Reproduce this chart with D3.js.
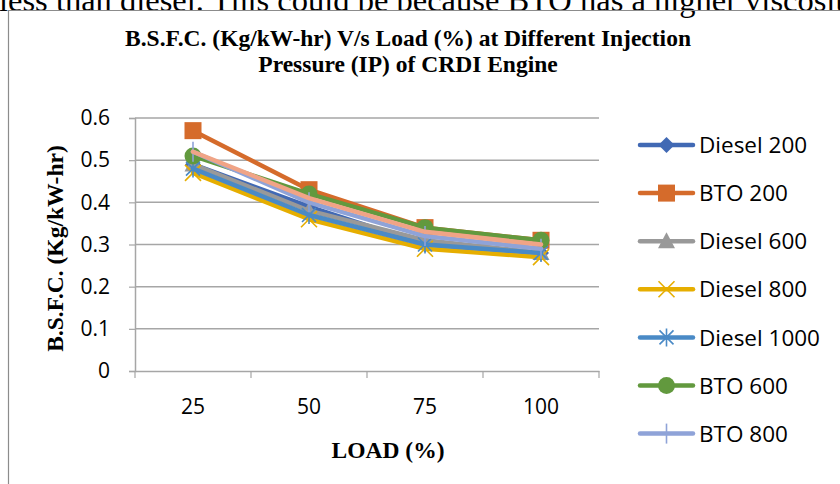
<!DOCTYPE html>
<html>
<head>
<meta charset="utf-8">
<script src="https://cdn.jsdelivr.net/npm/d3@7"></script>
<style>
  html, body { margin: 0; padding: 0; background: #fff; }
  svg { display: block; }
</style>
</head>
<body>
<svg id="chart" width="840" height="484"></svg>
<script>
// Load levels on the category axis
const loads = ["25", "50", "75", "100"];

// Brake specific fuel consumption (Kg/kW-hr) for each fuel / injection pressure
const diesel200  = [0.49, 0.39, 0.30, 0.28];
const bto200     = [0.57, 0.43, 0.34, 0.31];
const diesel600  = [0.49, 0.38, 0.31, 0.28];
const diesel800  = [0.47, 0.36, 0.29, 0.27];
const diesel1000 = [0.48, 0.37, 0.30, 0.28];
const bto600     = [0.51, 0.42, 0.34, 0.31];
const bto800     = [0.52, 0.40, 0.32, 0.29];
const bto1000    = [0.52, 0.41, 0.33, 0.30];

const yTicks = [0, 0.1, 0.2, 0.3, 0.4, 0.5, 0.6];

const series = [
  { name: "Diesel 200",  values: diesel200,  color: "#4169b4", marker: "diamond" },
  { name: "BTO 200",     values: bto200,     color: "#d56b2b", marker: "square" },
  { name: "Diesel 600",  values: diesel600,  color: "#999999", marker: "triangle" },
  { name: "Diesel 800",  values: diesel800,  color: "#e6ae00", marker: "x" },
  { name: "Diesel 1000", values: diesel1000, color: "#4a8ac6", marker: "star" },
  { name: "BTO 600",     values: bto600,     color: "#62993e", marker: "circle" },
  { name: "BTO 800",     values: bto800,     color: "#8fa3d8", marker: "plus" },
  { name: "BTO 1000",    values: bto1000,    color: "#f0a486", marker: "none", legend: false }
];

const serif = "Liberation Serif, Times New Roman, serif";
const sans = "Open Sans, Liberation Sans, sans-serif";

const svg = d3.select("#chart");

// Running text of the page above the chart
svg.append("text")
  .attr("x", -1).attr("y", 11)
  .attr("font-family", serif)
  .attr("font-size", 32.5)
  .attr("fill", "#000")
  .text("less than diesel. This could be because BTO has a higher viscosit");

// Chart frame
svg.append("path")
  .attr("d", "M8.5,484 V10.5 H840")
  .attr("fill", "none").attr("stroke", "#8c8c8c").attr("stroke-width", 1.2);

// Title
const title = svg.append("text")
  .attr("text-anchor", "middle")
  .attr("font-family", serif)
  .attr("font-weight", "bold").attr("font-size", 23.5).attr("fill", "#000");
title.append("tspan").attr("x", 408).attr("y", 46).text("B.S.F.C. (Kg/kW-hr) V/s Load (%) at Different Injection");
title.append("tspan").attr("x", 408).attr("y", 72).text("Pressure (IP) of CRDI Engine");

const plot = { left: 135, right: 599, top: 118, bottom: 371 };

const x = d3.scaleBand().domain(loads).range([plot.left, plot.right]);
const y = d3.scaleLinear().domain([0, 0.6]).range([plot.bottom, plot.top]);

// Horizontal gridlines
svg.append("g")
  .selectAll("line")
  .data(yTicks.filter(d => d > 0))
  .join("line")
  .attr("x1", plot.left).attr("x2", plot.right)
  .attr("y1", d => y(d)).attr("y2", d => y(d))
  .attr("stroke", "#a6a6a6").attr("stroke-width", 1.5);

// Y axis
const yAxis = svg.append("g")
  .attr("transform", `translate(${plot.left},0)`)
  .call(d3.axisLeft(y).tickValues(yTicks).tickSize(6).tickPadding(19)
    .tickFormat(d => d === 0 ? "0" : d3.format(".1f")(d)));
yAxis.select(".domain").attr("stroke", "#a6a6a6").attr("stroke-width", 1.5);
yAxis.selectAll(".tick line").attr("stroke", "#a6a6a6").attr("stroke-width", 1.2);
yAxis.selectAll(".tick text")
  .attr("font-family", sans)
  .attr("font-size", 21).attr("fill", "#000");

// X axis
const xAxis = svg.append("g")
  .attr("transform", `translate(0,${plot.bottom})`)
  .call(d3.axisBottom(x).tickSize(0).tickPadding(28));
xAxis.select(".domain").attr("stroke", "#a6a6a6").attr("stroke-width", 1.5);
xAxis.selectAll(".tick text")
  .attr("font-family", sans)
  .attr("font-size", 21).attr("fill", "#000");
// Tick marks sit between categories
svg.append("g")
  .selectAll("line")
  .data(d3.range(loads.length + 1))
  .join("line")
  .attr("x1", i => plot.left + i * x.step()).attr("x2", i => plot.left + i * x.step())
  .attr("y1", plot.bottom).attr("y2", plot.bottom + 7)
  .attr("stroke", "#a6a6a6").attr("stroke-width", 1.2);

// Axis titles
svg.append("text")
  .attr("transform", `translate(63,${(plot.top + plot.bottom) / 2 + 4}) rotate(-90)`)
  .attr("text-anchor", "middle")
  .attr("font-family", serif)
  .attr("font-weight", "bold").attr("font-size", 23.5).attr("fill", "#000")
  .text("B.S.F.C. (Kg/kW-hr)");
svg.append("text")
  .attr("x", 388).attr("y", 458)
  .attr("text-anchor", "middle")
  .attr("font-family", serif)
  .attr("font-weight", "bold").attr("font-size", 23.5).attr("fill", "#000")
  .text("LOAD (%)");

// Marker drawing
function drawMarker(g, type, color, cx, cy) {
  const m = g.append("g").attr("transform", `translate(${cx},${cy})`);
  switch (type) {
    case "diamond":
      m.append("path").attr("d", "M0,-8 L8,0 L0,8 L-8,0Z").attr("fill", color);
      break;
    case "square":
      m.append("rect").attr("x", -8.5).attr("y", -8.5).attr("width", 17).attr("height", 17).attr("fill", color);
      break;
    case "triangle":
      m.append("path").attr("d", "M0,-9 L8.5,7 L-8.5,7Z").attr("fill", color);
      break;
    case "circle":
      m.append("circle").attr("r", 8.5).attr("fill", color);
      break;
    case "x":
      m.append("path").attr("d", "M-8,-8 L8,8 M-8,8 L8,-8")
        .attr("stroke", color).attr("stroke-width", 1.6).attr("fill", "none");
      break;
    case "star":
      m.append("path").attr("d", "M-7,-7 L7,7 M-7,7 L7,-7 M0,-9 V9")
        .attr("stroke", color).attr("stroke-width", 1.6).attr("fill", "none");
      break;
    case "plus":
      m.append("path").attr("d", "M0,-10 V10")
        .attr("stroke", color).attr("stroke-width", 1.6).attr("fill", "none");
      break;
  }
}

const line = d3.line()
  .x((d, i) => x(loads[i]) + x.bandwidth() / 2)
  .y(d => y(d));

const linesG = svg.append("g");
series.forEach(s => {
  const g = linesG.append("g");
  g.append("path")
    .datum(s.values)
    .attr("d", line)
    .attr("fill", "none")
    .attr("stroke", s.color)
    .attr("stroke-width", 4.5)
    .attr("stroke-linejoin", "round")
    .attr("stroke-linecap", "round");
  s.values.forEach((v, i) => {
    drawMarker(g, s.marker, s.color, x(loads[i]) + x.bandwidth() / 2, y(v));
  });
});

// Legend
const legend = svg.append("g");
series.filter(s => s.legend !== false).forEach((s, i) => {
  const ly = 145 + i * 48.1;
  const g = legend.append("g");
  g.append("line")
    .attr("x1", 640).attr("x2", 693).attr("y1", ly).attr("y2", ly)
    .attr("stroke", s.color).attr("stroke-width", 4.5).attr("stroke-linecap", "round");
  drawMarker(g, s.marker, s.color, 666.5, ly);
  g.append("text")
    .attr("x", 699).attr("y", ly).attr("dy", "0.36em")
    .attr("font-family", sans)
    .attr("font-size", 22.5).attr("fill", "#000")
    .text(s.name);
});
</script>
</body>
</html>
